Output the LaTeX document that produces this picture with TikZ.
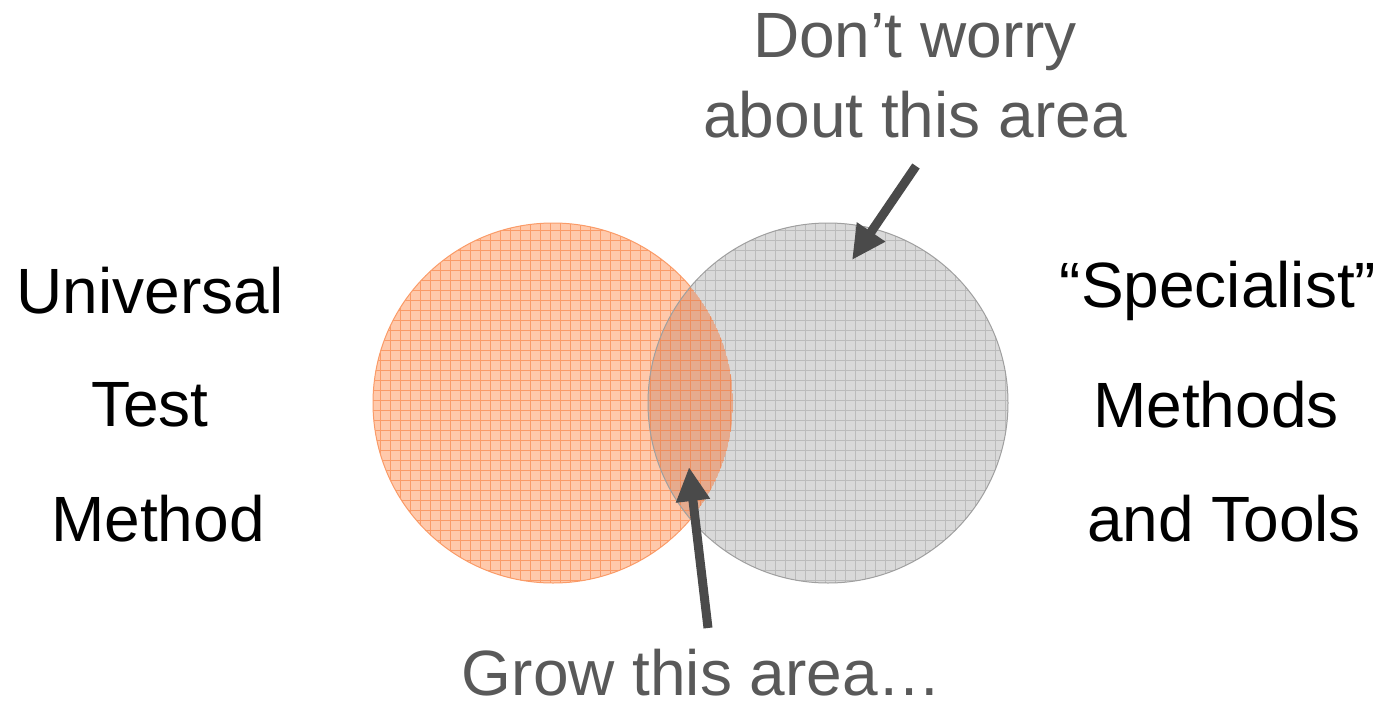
\documentclass[tikz,border=0pt]{standalone}
\usepackage{fontspec}
\setmainfont{Liberation Sans}
\usetikzlibrary{arrows.meta}
\definecolor{orfill}{HTML}{FFC9AB}
\definecolor{orline}{HTML}{FA9B68}
\definecolor{gyfill}{HTML}{D9D9D9}
\definecolor{gyline}{HTML}{BBBBBB}
\definecolor{ovfill}{HTML}{E6AB8E}
\definecolor{ovline}{HTML}{EE8E5E}
\definecolor{txtgray}{HTML}{595959}
\definecolor{arrgray}{HTML}{4A4A4A}
\tikzset{
  bigtext/.style={font=\fontsize{64}{75}\selectfont, inner sep=0pt},
  sidetext/.style={bigtext, text=black, align=center},
  notetext/.style={bigtext, text=txtgray, align=center},
  pointer/.style={draw=arrgray, line width=9pt, -{Triangle[length=34pt,width=32pt]}},
  gridln/.style={line width=1pt},
}
\newcommand{\gridlines}[3]{% x0, y0, colour
  \foreach \k in {0,...,37} {
    \draw[gridln, #3] (#1+10*\k,#2) -- (#1+10*\k,#2+370);
    \draw[gridln, #3] (#1,#2+10*\k) -- (#1+370,#2+10*\k);
  }}
\begin{document}
\begin{tikzpicture}[x=1pt,y=-1pt]
\useasboundingbox (0,0) rectangle (1395,707);
% orange circle
\begin{scope}
  \clip (553,403) circle (180);
  \fill[orfill] (553,403) circle (180);
  \gridlines{370}{220}{orline}
\end{scope}
\draw[orline, line width=1pt] (553,403) circle (180);
% gray circle
\begin{scope}
  \clip (828,403) circle (180);
  \fill[gyfill] (828,403) circle (180);
  \gridlines{645}{220}{gyline}
\end{scope}
% overlap
\begin{scope}
  \clip (553,403) circle (180);
  \clip (828,403) circle (180);
  \fill[ovfill] (553,403) circle (180);
  \gridlines{370}{220}{ovline}
\end{scope}
\draw[gray!75, line width=1pt] (828,403) circle (180);
% texts
\node[sidetext] (uni) at (150,291) {Universal};
\node[sidetext] (test) at (150,405) {Test};
\node[sidetext] (meth) at (158,519) {Method};
\node[sidetext] (spec) at (1218,291) {“Specialist”};
\node[sidetext] (meths) at (1216,405) {Methods};
\node[sidetext] (tools) at (1224,519) {and Tools};
\node[notetext] (dont) at (915,42) {Don’t worry};
\node[notetext] (about) at (915,115) {about this area};
\node[notetext] (grow) at (702,673) {Grow this area…};
% arrows
\coordinate (a1s) at (916,166);
\coordinate (a1e) at (852,260);
\coordinate (a2s) at (708,628);
\coordinate (a2e) at (689,467);
\draw[pointer] (a1s) -- (a1e);
\draw[pointer] (a2s) -- (a2e);
\end{tikzpicture}
\end{document}
